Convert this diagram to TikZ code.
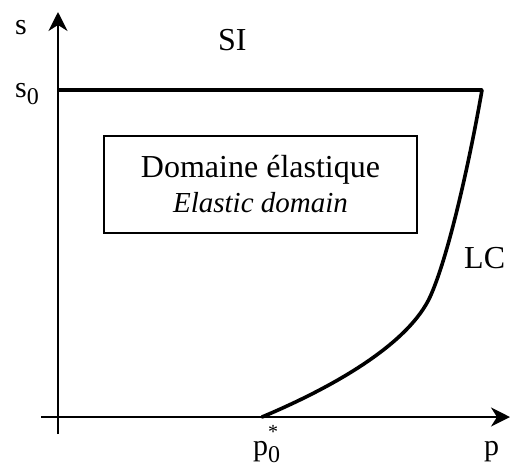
\documentclass[tikz,border=0pt]{standalone}
\usepackage{fontspec}
\setmainfont{Liberation Serif}
\usetikzlibrary{arrows.meta}

\newcommand{\lowidx}[1]{\raisebox{-7pt}{\fontsize{24}{24}\selectfont #1}}
\newcommand{\highidx}[1]{\raisebox{17pt}{\fontsize{20}{20}\selectfont #1}}

\begin{document}
\begin{tikzpicture}[
  x=1pt, y=-1pt,
  axis/.style={-{Stealth[length=19pt, width=19pt, inset=6pt]}, draw=black, line width=1.8pt},
  limit/.style={draw=black, line width=3.6pt},
  domain box/.style={
    draw=black,
    line width=1.6pt,
    minimum width=313pt,
    minimum height=97pt,
    align=center,
    inner sep=0pt,
    font=\fontsize{32}{34}\selectfont
  },
  label/.style={anchor=base west, inner sep=0pt, font=\fontsize{30}{36}\selectfont}
]
\useasboundingbox (0,0) rectangle (522,467);

% axes
\coordinate (ybot) at (58,434);
\coordinate (ytop) at (58,12);
\coordinate (xleft) at (41,417);
\coordinate (xright) at (510,417);
\draw[axis] (ybot) -- (ytop);
\draw[axis] (xleft) -- (xright);

% SI and LC limits
\coordinate (s0) at (58,90);
\coordinate (corner) at (482,90);
\coordinate (bend) at (430,297);
\coordinate (pstar) at (262,417);
\draw[limit] (s0) -- (corner);
\draw[limit, line cap=round] (pstar) .. controls (345,382) and (410,340) .. (bend)
  .. controls (447,260) and (468,170) .. (corner);

% elastic domain
\node[domain box] (domain) at (260.5,184.5) {
  Domaine élastique\\[1pt]
  {\fontsize{29}{32}\selectfont\itshape Elastic domain}
};

% labels
\node[label] (slab) at (15,34) {s};
\node[label] (s0lab) at (15,97) {s\lowidx{0}};
\node[label, font=\fontsize{32}{36}\selectfont] (silab) at (218,50) {SI};
\node[label, font=\fontsize{32}{36}\selectfont] (lclab) at (464,268) {LC};
\node[label] (p0lab) at (253,455) {p\rlap{\lowidx{0}}\highidx{*}};
\node[label] (plab) at (484,455) {p};

\end{tikzpicture}
\end{document}
